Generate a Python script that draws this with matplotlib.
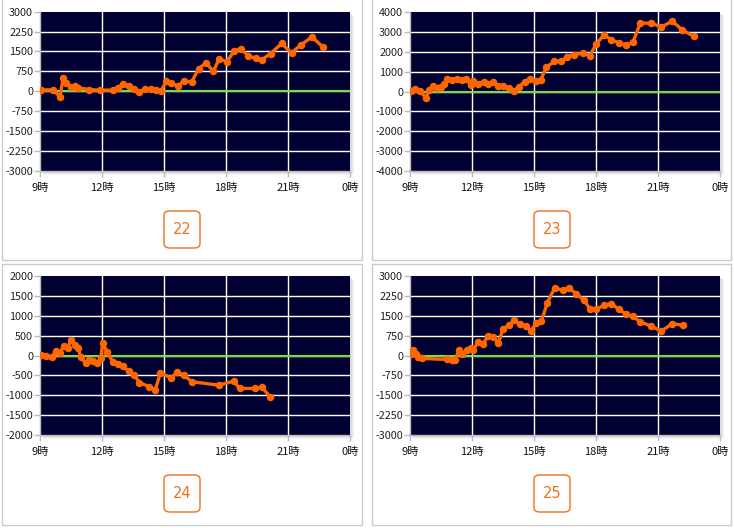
import matplotlib
matplotlib.use("Agg")
import matplotlib.pyplot as plt
from matplotlib.patches import Rectangle, FancyBboxPatch

plt.rcParams['font.family'] = ['Noto Sans CJK JP', 'DejaVu Sans']

# data: hour of day, value
hours_22 = [9.03, 9.64, 9.96, 10.12, 10.28, 10.48, 10.69, 10.85, 11.38, 11.89, 12.53, 12.77,
            13.04, 13.30, 13.57, 13.78, 14.06, 14.35, 14.62, 14.86, 15.10, 15.34, 15.66, 15.98,
            16.34, 16.68, 17.03, 17.39, 17.67, 18.04, 18.39, 18.71, 19.08, 19.43, 19.75, 20.16,
            20.69, 21.17, 21.65, 22.16, 22.68]
vals_22 = [50, 50, -210, 480, 310, 160, 190, 130, 60, 40, 40, 130,
           290, 210, 100, -25, 75, 75, 40, 0, 380, 310, 200, 390,
           350, 855, 1070, 755, 1220, 1110, 1510, 1610, 1330, 1245, 1195, 1420,
           1800, 1450, 1760, 2050, 1670]

hours_23 = [9.03, 9.24, 9.48, 9.77, 9.93, 10.13, 10.29, 10.48, 10.66, 10.80, 11.01, 11.25,
            11.50, 11.71, 11.93, 12.06, 12.30, 12.57, 12.78, 13.03, 13.27, 13.51, 13.80, 14.04,
            14.28, 14.56, 14.80, 15.09, 15.33, 15.60, 15.97, 16.33, 16.62, 16.94, 17.37, 17.70,
            18.02, 18.39, 18.74, 19.10, 19.47, 19.79, 20.14, 20.68, 21.16, 21.69, 22.17, 22.74]
vals_23 = [50, 130, 20, -320, 80, 270, 170, 250, 385, 640, 590, 620,
           590, 640, 335, 520, 385, 470, 385, 470, 300, 270, 185, 20,
           250, 500, 640, 520, 600, 1225, 1510, 1525, 1760, 1860, 1930, 1810,
           2400, 2850, 2600, 2450, 2350, 2480, 3440, 3440, 3240, 3540, 3100, 2770]

hours_24 = [9.03, 9.29, 9.56, 9.75, 9.96, 10.15, 10.36, 10.49, 10.68, 10.84, 10.97, 11.21,
            11.37, 11.56, 11.76, 11.93, 12.04, 12.24, 12.53, 12.77, 13.01, 13.29, 13.57, 13.81,
            14.29, 14.58, 14.82, 15.33, 15.65, 15.97, 16.34, 17.65, 18.37, 18.66, 19.42, 19.74,
            20.14]
vals_24 = [25, -15, -50, 110, 65, 245, 200, 385, 260, 190, -35, -200,
           -115, -140, -200, -75, 325, 90, -160, -220, -270, -390, -495, -680,
           -785, -870, -435, -560, -425, -495, -660, -745, -645, -830, -830, -800,
           -1040]

hours_25 = [9.03, 9.13, 9.27, 9.40, 9.56, 10.80, 11.01, 11.17, 11.37, 11.54, 11.74, 11.93,
            12.06, 12.30, 12.54, 12.78, 13.03, 13.27, 13.51, 13.80, 14.04, 14.31, 14.60, 14.85,
            15.12, 15.36, 15.65, 16.00, 16.38, 16.68, 17.05, 17.41, 17.70, 18.02, 18.39, 18.74,
            19.10, 19.47, 19.79, 20.14, 20.68, 21.16, 21.69, 22.20]
vals_25 = [40, 200, 75, -75, -110, -150, -175, -175, 200, 75, 200, 290,
           200, 515, 450, 740, 700, 475, 1015, 1140, 1355, 1170, 1105, 930,
           1230, 1295, 2000, 2550, 2460, 2550, 2335, 2085, 1770, 1745, 1895, 1960,
           1745, 1555, 1480, 1270, 1105, 915, 1205, 1140]

hour_ticks = [9, 12, 15, 18, 21, 24]
hour_labels = ['9時', '12時', '15時', '18時', '21時', '0時']

charts = [
    ('22', hours_22, vals_22, 3000, 750),
    ('23', hours_23, vals_23, 4000, 1000),
    ('24', hours_24, vals_24, 2000, 500),
    ('25', hours_25, vals_25, 3000, 750),
]

W, H = 734, 528
fig = plt.figure(figsize=(W / 100, H / 100), dpi=100)
fig.patch.set_facecolor('white')


def px_rect(x0, y0, x1, y1):
    # pixel box (top-left origin) -> figure fraction
    return [x0 / W, 1 - y1 / H, (x1 - x0) / W, (y1 - y0) / H]


# panel frames
frames = [(2, -5, 362, 260), (372, -5, 731, 260), (2, 264, 362, 525), (372, 264, 731, 525)]
for x0, y0, x1, y1 in frames:
    fig.patches.append(Rectangle((x0 / W, 1 - y1 / H), (x1 - x0) / W, (y1 - y0) / H,
                                 transform=fig.transFigure, fill=False,
                                 edgecolor='#cccccc', linewidth=1, zorder=0))

plot_boxes = [(40, 11.7, 350, 170.7), (410, 12, 720, 171), (40, 276, 350, 435), (410, 276, 720, 435)]
badge_boxes = [(164, 211, 200, 248), (534, 211, 570, 248), (164, 475, 200, 512), (534, 475, 570, 512)]

for (name, hrs, vals, lim, step), box, badge in zip(charts, plot_boxes, badge_boxes):
    x0, y0, x1, y1 = box
    # soft shadow behind plot area
    for k, c in enumerate(['#f4f4f4', '#e8e8e8', '#dcdcdc']):
        d = 4 - k
        fig.patches.append(Rectangle(((x0 + d) / W, 1 - (y1 + d) / H),
                                     (x1 - x0) / W, (y1 - y0) / H,
                                     transform=fig.transFigure, facecolor=c,
                                     edgecolor='none', zorder=0))
    ax = fig.add_axes(px_rect(x0, y0, x1, y1))
    ax.set_zorder(5)
    ax.set_facecolor('#000033')
    ax.set_xlim(9, 24)
    ax.set_ylim(-lim, lim)
    yt = list(range(-lim, lim + 1, step))
    ax.set_yticks(yt)
    ax.set_yticklabels([str(v) for v in yt])
    ax.set_xticks(hour_ticks)
    ax.set_xticklabels(hour_labels)
    for v in yt[1:-1]:
        ax.axhline(v, color='white', linewidth=1, zorder=1)
    for h in hour_ticks[1:-1]:
        ax.axvline(h, color='white', linewidth=1, zorder=1)
    ax.axhline(0, color='#77dd44', linewidth=1.5, zorder=2)
    ax.plot(hrs, vals, color='#ff6600', linewidth=2.4, marker='o', markersize=4.4,
            zorder=3, solid_joinstyle='round')
    for s in ['top', 'right']:
        ax.spines[s].set_visible(False)
    for s in ['left', 'bottom']:
        ax.spines[s].set_color('#bbbbbb')
        ax.spines[s].set_linewidth(1)
    ax.tick_params(axis='y', length=4, width=1, color='#bbbbbb', labelsize=7.8,
                   labelcolor='#222222', pad=1)
    ax.tick_params(axis='x', length=4, width=1, color='#bbbbbb', labelsize=8,
                   labelcolor='#111111', pad=5)

    bx0, by0, bx1, by1 = badge
    fig.patches.append(FancyBboxPatch((bx0 / W, 1 - by1 / H), (bx1 - bx0) / W, (by1 - by0) / H,
                                      boxstyle='round,pad=0,rounding_size=0.008',
                                      transform=fig.transFigure, facecolor='white',
                                      edgecolor='#f07020', linewidth=1))
    fig.text((bx0 + bx1) / 2 / W, 1 - (by0 + by1) / 2 / H, name, color='#f07020',
             fontsize=10.5, ha='center', va='center', family=['DejaVu Sans'])

fig.savefig('out.png', dpi=100)
